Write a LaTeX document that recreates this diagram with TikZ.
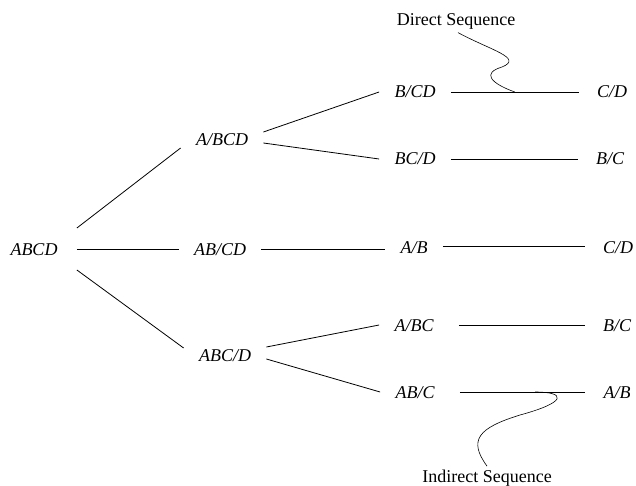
\documentclass[tikz,border=0pt]{standalone}
\usepackage{fontspec}
\setmainfont{Liberation Serif}
\usetikzlibrary{positioning}

\begin{document}
\begin{tikzpicture}[x=1pt, y=-1pt, line width=0.8pt,
  split/.style={font=\fontsize{18}{20}\selectfont\itshape, inner xsep=15pt, text height=12pt, text depth=0pt},
  tag/.style={font=\fontsize{18}{20}\selectfont}]
  \useasboundingbox (0,0) rectangle (636,486);
  % Feed
  \node[split, inner xsep=19pt] (abcd) at (34,249) {ABCD};
  % First split
  \node[split] (a-bcd) at (222,140) {A/BCD};
  \node[split] (ab-cd) at (220,249) {AB/CD};
  \node[split] (abc-d) at (225,355) {ABC/D};
  % Second split
  \node[split] (b-cd) at (415,92) {B/CD};
  \node[split] (bc-d) at (415,159) {BC/D};
  \node[split] (a-b) at (414,247) {A/B};
  \node[split] (a-bc) at (414,325) {A/BC};
  \node[split] (ab-c) at (415,392) {AB/C};
  % Third split
  \node[split, inner xsep=18pt] (c-d1) at (612,92) {C/D};
  \node[split, inner xsep=18pt] (b-c1) at (610,159) {B/C};
  \node[split, inner xsep=18pt] (c-d2) at (618,247) {C/D};
  \node[split, inner xsep=18pt] (b-c2) at (617,325) {B/C};
  \node[split, inner xsep=18pt] (a-b2) at (617,392) {A/B};
  % Branches
  \draw ([yshift=21pt]abcd.east) -- ([yshift=-8pt]a-bcd.west);
  \draw (abcd.east) -- (ab-cd.west);
  \draw ([yshift=-21pt]abcd.east) -- ([yshift=7pt]abc-d.west);
  \draw ([yshift=8pt]a-bcd.east) -- (b-cd.west);
  \draw ([yshift=-3pt]a-bcd.east) -- (bc-d.west);
  \draw (ab-cd.east) -- (a-b.west |- ab-cd.east);
  \draw ([yshift=8pt]abc-d.east) -- (a-bc.west);
  \draw ([yshift=-4pt]abc-d.east) -- (ab-c.west);
  \draw (b-cd.east) -- (c-d1.west) coordinate[pos=0.5] (direct);
  \draw (bc-d.east) -- (b-c1.west);
  \draw ([yshift=1pt]a-b.east) -- ([yshift=1pt]c-d2.west);
  \draw ([xshift=10pt]a-bc.east) -- (b-c2.west);
  \draw ([xshift=10pt]ab-c.east) -- (a-b2.west) coordinate[pos=0.6] (indirect);
  % Sequence labels
  \node[tag] (dseq) at (456,21) {Direct Sequence};
  \node[tag] (iseq) at (487,478) {Indirect Sequence};
  \draw[line width=0.6pt] ([xshift=2pt]dseq.south) .. controls (490,50) and (524,58) .. (502,67) .. controls (482,73) and (490,83) .. (direct);
  \draw[line width=0.6pt] (iseq.north) .. controls (468,440) and (478,428) .. (520,415) .. controls (568,402) and (566,392) .. (indirect);
\end{tikzpicture}
\end{document}
